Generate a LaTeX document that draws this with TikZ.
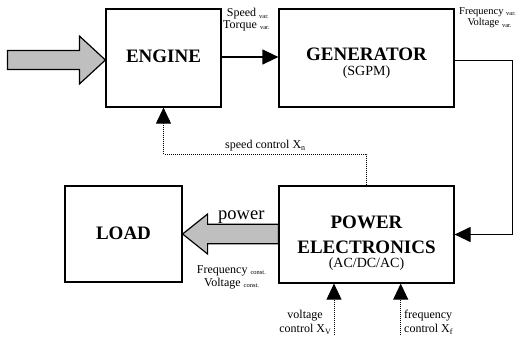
\documentclass[tikz,border=0pt]{standalone}
\usepackage{fontspec}
\setmainfont{Liberation Serif}
\usetikzlibrary{arrows.meta,calc}
\newcommand{\sbs}[1]{\raisebox{-0.35ex}{\fontsize{6.5}{7}\selectfont #1}}
\newcommand{\xsb}[1]{\raisebox{-0.45ex}{\fontsize{8}{8}\selectfont #1}}
\begin{document}
\begin{tikzpicture}[x=1pt,y=-1pt,
  box/.style={draw,line width=1.2pt,rectangle,inner sep=0pt},
  title/.style={font=\fontsize{19}{19}\selectfont\bfseries,inner sep=0pt,anchor=base},
  sub/.style={font=\fontsize{14}{14}\selectfont,inner sep=0pt,anchor=base},
  lbl/.style={font=\fontsize{12}{12}\selectfont,inner sep=0pt},
  slbl/.style={font=\fontsize{10.5}{10.5}\selectfont,inner sep=0pt,anchor=base west},
  conn/.style={line width=1.2pt,-{Triangle[length=16pt,width=15pt]}},
  ctl/.style={line width=0.9pt,dash pattern=on 1pt off 1pt,-{Triangle[length=16pt,width=15pt]}},
  fat/.style={draw,line width=1.2pt,fill=black!25,line join=miter}]
\useasboundingbox (0,0) rectangle (526,341);

% boxes
\node[box,minimum width=115pt,minimum height=98pt] (engine) at (163.5,58) {};
\node[box,minimum width=175pt,minimum height=98pt] (generator) at (366.5,58) {};
\node[box,minimum width=117pt,minimum height=96pt] (load) at (123.5,234) {};
\node[box,minimum width=175pt,minimum height=97pt] (pe) at (366.5,234.5) {};

% box texts
\node[title] (tengine) at (163.5,62.3) {ENGINE};
\node[title] (tgen) at (366.5,60) {GENERATOR};
\node[sub] (tsgpm) at (366.5,75.5) {(SGPM)};
\node[title] (tload) at (123.5,239.3) {LOAD};
\node[title] (tpow) at (366.5,228) {POWER};
\node[title] (telec) at (366.5,253) {ELECTRONICS};
\node[sub] (tacdc) at (366.5,267.5) {(AC/DC/AC)};

% input fat arrow
\coordinate (intip) at ($(engine.west)+(0,2)$);
\draw[fat] (intip) -- ++(-26,-24) -- ++(0,14.5) -- ++(-72,0) -- ++(0,19) -- ++(72,0) -- ++(0,14.5) -- cycle;

% power fat arrow
\draw[fat] (load.east) -- ++(25,-20) -- ++(0,10.3) -- ($(pe.west)+(0,-10.2)$) -- ($(pe.west)+(0,9.2)$) -- ($(load.east)+(25,9.7)$) -- ++(0,10.3) -- cycle;
\node[font=\fontsize{18.5}{18.5}\selectfont,inner sep=0pt,anchor=base west] (tpower) at (218,219) {power};

% engine -> generator
\draw[conn] (engine.east |- 0,57) -- (generator.west |- 0,57);
\node[lbl,anchor=base west] (tspeed) at (226.7,16.5) {Speed \sbs{var.}};
\node[lbl,anchor=base west] (ttorque) at (223,28) {Torque \sbs{var.}};

% generator -> power electronics
\draw[conn] ($(generator.east)+(0,2.3)$) -- ++(57.7,0) |- (pe.east);
\node[slbl] (tfreqv) at (459,14.3) {Frequency \sbs{var.}};
\node[slbl] (tvoltv) at (467.3,25.7) {Voltage \sbs{var.}};

% speed control
\draw[ctl] (pe.north) -- ++(0,-31) -| (engine.south);
\node[lbl,anchor=base west] (tspc) at (225,148.3) {speed control X\xsb{n}};

% constant labels
\node[lbl,anchor=base west] (tfreqc) at (196.7,273) {Frequency \sbs{const.}};
\node[lbl,anchor=base west] (tvoltc) at (204,286) {Voltage \sbs{const.}};

% voltage / frequency control
\coordinate (vc) at (334,335);
\coordinate (fc) at (400.7,335);
\draw[ctl] (vc) -- (vc |- pe.south);
\draw[ctl] (fc) -- (fc |- pe.south);
\node[lbl,anchor=base east] (tvc1) at (323,318) {voltage};
\node[lbl,anchor=base east] (tvc2) at (331,332) {control X\xsb{V}};
\node[lbl,anchor=base west] (tfc1) at (404,318) {frequency};
\node[lbl,anchor=base west] (tfc2) at (404,332) {control X\xsb{f}};
\end{tikzpicture}
\end{document}
